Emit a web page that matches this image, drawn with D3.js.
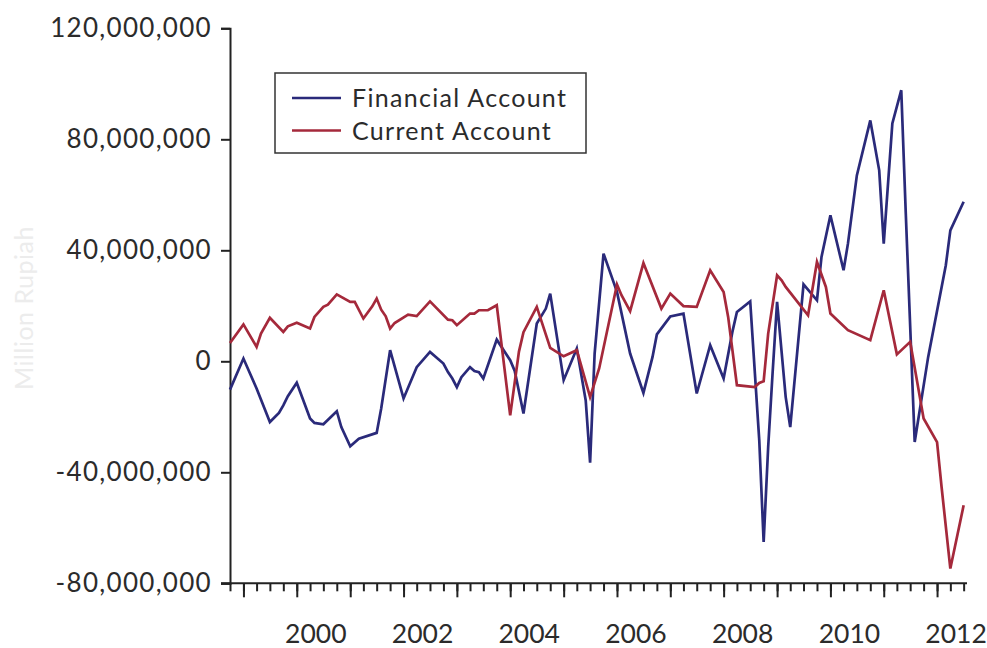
<!DOCTYPE html>
<meta charset="utf-8">
<head>
    <title>Financial and Current Account</title>
    <script src="https://cdn.jsdelivr.net/npm/d3@7"></script>
    <style>
        html, body {
            margin: 0;
            padding: 0;
            background: #ffffff;
        }
        svg text {
            font-family: Lato, "Open Sans", sans-serif;
            fill: #2b2b2b;
        }
    </style>
</head>
<body>
    <div id="chart"></div>
    <script>
        // months (YYYY-MM) and values in million (axis unit) for each series
        var finMonths = ["1998-10","1999-01","1999-04","1999-07","1999-09","1999-10","1999-11","2000-01","2000-04","2000-05",
            "2000-07","2000-10","2000-11","2001-01","2001-03","2001-07","2001-08","2001-10","2002-01","2002-04",
            "2002-07","2002-10","2002-11","2002-12","2003-01","2003-02","2003-04","2003-05","2003-06","2003-07",
            "2003-10","2004-01","2004-02","2004-04","2004-07","2004-09","2004-10","2005-01","2005-04","2005-06",
            "2005-07","2005-08","2005-10","2006-01","2006-04","2006-07","2006-09","2006-10","2007-01","2007-04",
            "2007-07","2007-10","2008-01","2008-03","2008-04","2008-07","2008-09","2008-10","2008-11","2008-12",
            "2009-01","2009-03","2009-04","2009-07","2009-10","2009-11","2010-01","2010-04","2010-05","2010-07",
            "2010-10","2010-12","2011-01","2011-03","2011-05","2011-06","2011-08","2011-11","2012-03","2012-04",
            "2012-07"];
        var finValues = [-10.2, 1.0, -9.8, -21.9, -18.6, -15.9, -12.6, -7.7, -20.6, -22.2,
            -22.7, -18.0, -23.7, -30.6, -27.9, -25.8, -17.0, 4.0, -13.4, -2.1,
            3.4, -0.8, -3.9, -6.2, -9.3, -5.7, -2.1, -3.5, -3.9, -6.2,
            7.8, 0.4, -3.5, -18.8, 13.6, 19.0, 24.4, -6.8, 4.6, -14.1,
            -36.5, 2.8, 38.8, 25.0, 2.8, -11.4, 1.5, 9.7, 16.2, 17.2,
            -11.6, 5.8, -6.2, 10.6, 17.8, 21.6, -28.5, -65.1, -30.9, -4.4,
            21.4, -12.9, -23.7, 27.7, 22.0, 37.6, 52.6, 32.8, 42.4, 67.0,
            86.8, 68.8, 42.4, 85.7, 97.7, 53.2, -29.1, 1.5, 34.6, 47.2,
            57.5];

        var curMonths = ["1998-10","1999-01","1999-04","1999-05","1999-07","1999-10","1999-11","2000-01","2000-04","2000-05",
            "2000-07","2000-08","2000-10","2001-01","2001-02","2001-04","2001-06","2001-07","2001-08","2001-09",
            "2001-10","2001-11","2002-02","2002-04","2002-07","2002-11","2002-12","2003-01","2003-04","2003-05",
            "2003-06","2003-08","2003-10","2004-01","2004-03","2004-04","2004-07","2004-10","2005-01","2005-04",
            "2005-07","2005-09","2006-01","2006-02","2006-04","2006-07","2006-11","2007-01","2007-04","2007-07",
            "2007-10","2008-01","2008-02","2008-04","2008-08","2008-09","2008-10","2008-11","2009-01","2009-02",
            "2009-03","2009-08","2009-10","2009-12","2010-01","2010-05","2010-10","2011-01","2011-04","2011-07",
            "2011-10","2012-01","2012-02","2012-04","2012-07"];
        var curValues = [6.6, 13.3, 5.2, 10.0, 15.7, 10.6, 12.6, 13.9, 11.8, 16.0,
            19.6, 20.4, 24.1, 21.4, 21.4, 15.4, 19.8, 22.6, 18.6, 16.2,
            11.8, 13.8, 16.8, 16.3, 21.6, 15.0, 14.8, 13.0, 17.2, 17.2,
            18.4, 18.4, 20.2, -19.5, 3.5, 10.5, 19.6, 4.8, 1.8, 4.0,
            -12.9, -2.6, 27.7, 23.8, 18.1, 35.4, 19.0, 24.4, 19.9, 19.6,
            32.8, 25.0, 16.0, -8.6, -9.3, -7.8, -7.2, 10.0, 31.0, 29.2,
            26.8, 16.6, 35.8, 26.8, 17.2, 11.2, 7.6, 25.6, 2.5, 7.0,
            -20.6, -29.1, -45.3, -74.7, -51.9];

        var yTicks = [-80, -40, 0, 40, 80, 120];
        var yearLabels = [2000, 2002, 2004, 2006, 2008, 2010, 2012];
        var seriesNames = ["Financial Account", "Current Account"];
        var seriesColors = ["#2a2a7a", "#a5293b"];

        var width = 987, height = 648;
        var parseMonth = d3.timeParse("%Y-%m");

        var svg = d3.select("#chart").append("svg")
            .attr("width", width)
            .attr("height", height);

        var x = d3.scaleTime()
            .domain([new Date(1998, 9, 1), new Date(2012, 6, 24)])
            .range([230, 967]);

        var y = d3.scaleLinear()
            .domain([-80, 120])
            .range([583.3, 28.3]);

        // y axis (hyphen minus like the original)
        var yAxis = d3.axisLeft(y)
            .tickValues(yTicks)
            .tickSize(9)
            .tickPadding(9)
            .tickFormat(function(d) { return d3.format(",")(d * 1000000).replace("\u2212", "-"); });

        var gy = svg.append("g")
            .attr("transform", "translate(230,0)")
            .call(yAxis);
        gy.select(".domain").attr("stroke", "#222").attr("stroke-width", 2);
        gy.selectAll(".tick line").attr("stroke", "#222").attr("stroke-width", 2);
        gy.selectAll(".tick text")
            .attr("font-size", 26)
            .attr("font-family", "Lato, sans-serif")
            .attr("letter-spacing", 1.3)
            .attr("fill", "#2b2b2b");

        // x axis: quarter ticks, longer ticks at each year
        var xAxisMinor = d3.axisBottom(x)
            .ticks(d3.timeMonth.every(3))
            .tickSize(8)
            .tickFormat("");
        var gxm = svg.append("g")
            .attr("transform", "translate(0,583.3)")
            .call(xAxisMinor);
        gxm.select(".domain").attr("stroke", "#222").attr("stroke-width", 2)
            .attr("d", "M221,0H967");
        gxm.selectAll(".tick line").attr("stroke", "#222").attr("stroke-width", 2);

        var xAxisMajor = d3.axisBottom(x)
            .ticks(d3.timeYear.every(1))
            .tickSize(14)
            .tickFormat("");
        var gxM = svg.append("g")
            .attr("transform", "translate(0,583.3)")
            .call(xAxisMajor);
        gxM.select(".domain").remove();
        gxM.selectAll(".tick line").attr("stroke", "#222").attr("stroke-width", 2);

        svg.append("g").selectAll("text")
            .data(yearLabels)
            .enter()
            .append("text")
            .attr("x", function(d) { return x(new Date(d, 0, 1)) + 19; })
            .attr("y", 643)
            .attr("text-anchor", "middle")
            .attr("font-size", 26.5)
            .text(function(d) { return d; });

        // y axis title, very faint
        svg.append("text")
            .attr("transform", "translate(33,308) rotate(-90)")
            .attr("text-anchor", "middle")
            .attr("font-size", 25)
            .attr("letter-spacing", 0.5)
            .style("fill", "#ececec")
            .text("Million Rupiah");

        // lines
        var line = d3.line()
            .x(function(d) { return x(d.date); })
            .y(function(d) { return y(d.value); });

        var finData = finMonths.map(function(m, i) { return {date: parseMonth(m), value: finValues[i]}; });
        var curData = curMonths.map(function(m, i) { return {date: parseMonth(m), value: curValues[i]}; });

        [finData, curData].forEach(function(data, i) {
            svg.append("path")
                .datum(data)
                .attr("fill", "none")
                .attr("stroke", seriesColors[i])
                .attr("stroke-width", 2.7)
                .attr("stroke-linejoin", "miter")
                .attr("d", line);
        });

        // legend
        var legend = svg.append("g").attr("transform", "translate(275,73)");
        legend.append("rect")
            .attr("width", 311)
            .attr("height", 80)
            .attr("fill", "#fff")
            .attr("stroke", "#333")
            .attr("stroke-width", 1.5);

        var items = legend.selectAll("g.item")
            .data(seriesNames)
            .enter()
            .append("g")
            .attr("class", "item")
            .attr("transform", function(d, i) { return "translate(0," + (25 + i * 32.5) + ")"; });
        items.append("line")
            .attr("x1", 17).attr("x2", 66)
            .attr("stroke", function(d, i) { return seriesColors[i]; })
            .attr("stroke-width", 2.7);
        items.append("text")
            .attr("x", 77)
            .attr("dy", "0.36em")
            .attr("font-size", 25)
            .attr("letter-spacing", 1.3)
            .text(function(d) { return d; });
    </script>
</body>
</html>
